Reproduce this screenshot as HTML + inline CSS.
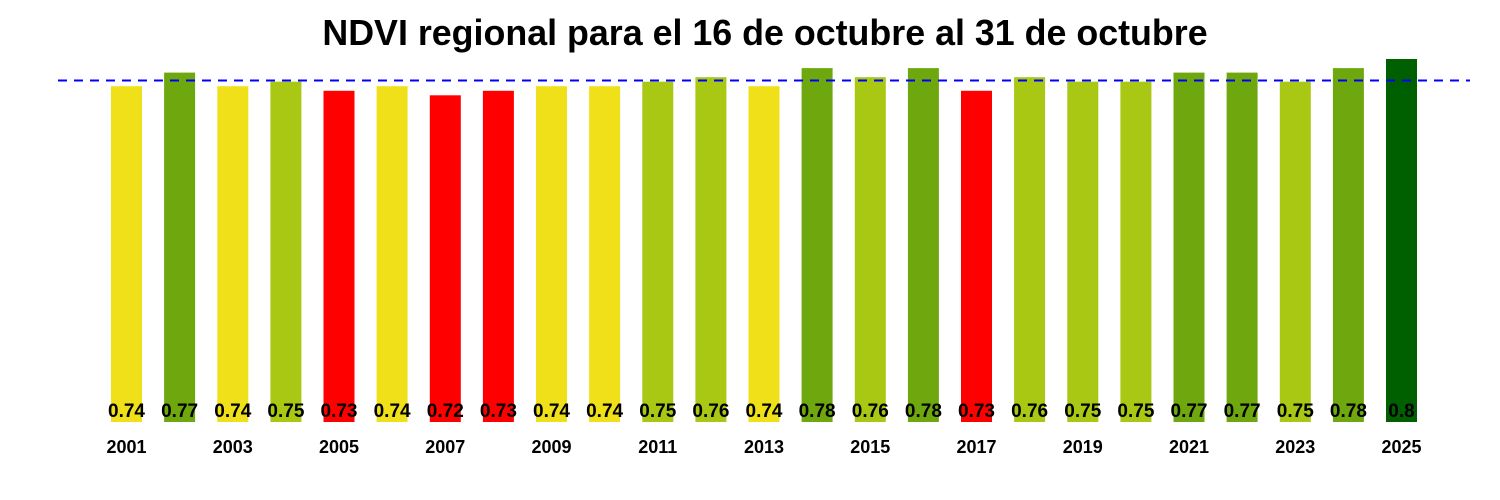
<!DOCTYPE html>
<html><head><meta charset="utf-8"><style>body{margin:0;background:#fff}svg{display:block}</style></head>
<body>
<svg width="1500" height="500" xmlns="http://www.w3.org/2000/svg" font-family="Liberation Sans, Arial, sans-serif">
<text x="765" y="45" font-size="35.8" font-weight="bold" text-anchor="middle">NDVI regional para el 16 de octubre al 31 de octubre</text>
<g>
<rect x="111" y="86.2" width="31" height="335.8" fill="#f0e01a"/>
<rect x="164.1" y="72.6" width="31" height="349.4" fill="#6ea80e"/>
<rect x="217.3" y="86.2" width="31" height="335.8" fill="#f0e01a"/>
<rect x="270.4" y="81.7" width="31" height="340.3" fill="#a8c814"/>
<rect x="323.5" y="90.8" width="31" height="331.2" fill="#ff0000"/>
<rect x="376.6" y="86.2" width="31" height="335.8" fill="#f0e01a"/>
<rect x="429.8" y="95.3" width="31" height="326.7" fill="#ff0000"/>
<rect x="482.9" y="90.8" width="31" height="331.2" fill="#ff0000"/>
<rect x="536" y="86.2" width="31" height="335.8" fill="#f0e01a"/>
<rect x="589.1" y="86.2" width="31" height="335.8" fill="#f0e01a"/>
<rect x="642.3" y="81.7" width="31" height="340.3" fill="#a8c814"/>
<rect x="695.4" y="77.2" width="31" height="344.8" fill="#a8c814"/>
<rect x="748.5" y="86.2" width="31" height="335.8" fill="#f0e01a"/>
<rect x="801.6" y="68.1" width="31" height="353.9" fill="#6ea80e"/>
<rect x="854.8" y="77.2" width="31" height="344.8" fill="#a8c814"/>
<rect x="907.9" y="68.1" width="31" height="353.9" fill="#6ea80e"/>
<rect x="961" y="90.8" width="31" height="331.2" fill="#ff0000"/>
<rect x="1014.1" y="77.2" width="31" height="344.8" fill="#a8c814"/>
<rect x="1067.3" y="81.7" width="31" height="340.3" fill="#a8c814"/>
<rect x="1120.4" y="81.7" width="31" height="340.3" fill="#a8c814"/>
<rect x="1173.5" y="72.6" width="31" height="349.4" fill="#6ea80e"/>
<rect x="1226.6" y="72.6" width="31" height="349.4" fill="#6ea80e"/>
<rect x="1279.8" y="81.7" width="31" height="340.3" fill="#a8c814"/>
<rect x="1332.9" y="68.1" width="31" height="353.9" fill="#6ea80e"/>
<rect x="1386" y="59" width="31" height="363" fill="#006000"/>
</g>
<line x1="58" y1="80.5" x2="1470" y2="80.5" stroke="#0000ff" stroke-width="2" stroke-dasharray="9,7"/>
<g font-size="19" font-weight="bold" text-anchor="middle">
<text x="126.5" y="417">0.74</text>
<text x="179.6" y="417">0.77</text>
<text x="232.8" y="417">0.74</text>
<text x="285.9" y="417">0.75</text>
<text x="339" y="417">0.73</text>
<text x="392.1" y="417">0.74</text>
<text x="445.3" y="417">0.72</text>
<text x="498.4" y="417">0.73</text>
<text x="551.5" y="417">0.74</text>
<text x="604.6" y="417">0.74</text>
<text x="657.8" y="417">0.75</text>
<text x="710.9" y="417">0.76</text>
<text x="764" y="417">0.74</text>
<text x="817.1" y="417">0.78</text>
<text x="870.3" y="417">0.76</text>
<text x="923.4" y="417">0.78</text>
<text x="976.5" y="417">0.73</text>
<text x="1029.6" y="417">0.76</text>
<text x="1082.8" y="417">0.75</text>
<text x="1135.9" y="417">0.75</text>
<text x="1189" y="417">0.77</text>
<text x="1242.1" y="417">0.77</text>
<text x="1295.3" y="417">0.75</text>
<text x="1348.4" y="417">0.78</text>
<text x="1401.5" y="417">0.8</text>
</g>
<g font-size="18" font-weight="bold" text-anchor="middle">
<text x="126.5" y="453">2001</text>
<text x="232.8" y="453">2003</text>
<text x="339" y="453">2005</text>
<text x="445.3" y="453">2007</text>
<text x="551.5" y="453">2009</text>
<text x="657.8" y="453">2011</text>
<text x="764" y="453">2013</text>
<text x="870.3" y="453">2015</text>
<text x="976.5" y="453">2017</text>
<text x="1082.8" y="453">2019</text>
<text x="1189" y="453">2021</text>
<text x="1295.3" y="453">2023</text>
<text x="1401.5" y="453">2025</text>
</g>
</svg>
</body></html>
